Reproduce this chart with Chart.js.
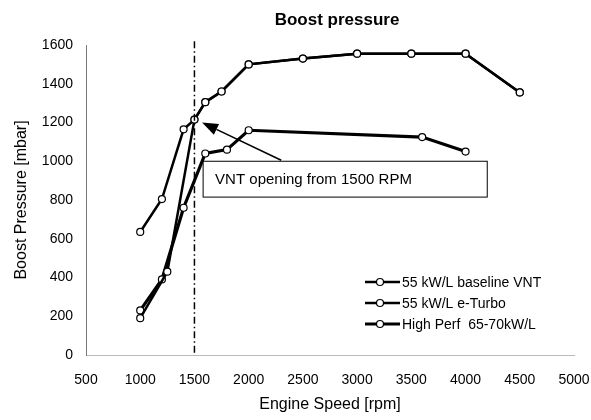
<!DOCTYPE html>
<html>
<head>
<meta charset="utf-8">
<script src="https://cdn.jsdelivr.net/npm/chart.js@4.4.0/dist/chart.umd.min.js"></script>
<style>
  html, body { margin: 0; padding: 0; background: #fff; }
  #wrap { width: 591px; height: 420px; }
</style>
</head>
<body>
<div id="wrap"><canvas id="grafico"></canvas></div>
<script>
// datos (rpm / mbar)
const rpmBaseline = [1000, 1250, 1500, 1600, 1750, 2000, 2500, 3000, 3500, 4000, 4500];
const boostBaseline = [190, 430, 1215, 1305, 1360, 1500, 1530, 1555, 1555, 1555, 1355];
const rpmETurbo = [1000, 1200, 1400, 1500, 1600, 1750, 2000, 2500, 3000, 3500, 4000, 4500];
const boostETurbo = [635, 805, 1165, 1215, 1305, 1360, 1500, 1530, 1555, 1555, 1555, 1355];
const rpmHighPerf = [1000, 1200, 1400, 1600, 1800, 2000, 3600, 4000];
const boostHighPerf = [230, 390, 760, 1040, 1060, 1160, 1125, 1050];
const xTicks = [500, 1000, 1500, 2000, 2500, 3000, 3500, 4000, 4500, 5000];
const yTicks = [0, 200, 400, 600, 800, 1000, 1200, 1400, 1600];

const FONT = '"Liberation Sans", Arial, sans-serif';

function puntos(xs, ys) {
  return xs.map((x, i) => ({ x: x, y: ys[i] }));
}

function serie(label, xs, ys, ancho) {
  return {
    label: label,
    data: puntos(xs, ys),
    borderColor: '#000',
    borderWidth: ancho,
    pointRadius: 3.5,
    pointBackgroundColor: '#fff',
    pointBorderColor: '#000',
    pointBorderWidth: 1.2,
    showLine: true,
    tension: 0
  };
}

// anotaciones: linea vertical, caja de texto y flecha (coordenadas de datos)
const extras = {
  id: 'extras',
  afterDatasetsDraw(chart) {
    const ctx = chart.ctx;
    const xs = chart.scales.x, ys = chart.scales.y;
    const area = chart.chartArea;
    ctx.save();

    // linea 1500 rpm
    ctx.strokeStyle = '#000';
    ctx.lineWidth = 1.5;
    ctx.setLineDash([7, 3, 1.5, 3]);
    ctx.beginPath();
    ctx.moveTo(xs.getPixelForValue(1500), ys.getPixelForValue(1620));
    ctx.lineTo(xs.getPixelForValue(1500), area.bottom);
    ctx.stroke();
    ctx.setLineDash([]);

    // caja
    const bx1 = xs.getPixelForValue(1580), bx2 = xs.getPixelForValue(4200);
    const by1 = ys.getPixelForValue(1000), by2 = ys.getPixelForValue(815);
    ctx.fillStyle = '#fff';
    ctx.fillRect(bx1, by1, bx2 - bx1, by2 - by1);
    ctx.lineWidth = 1;
    ctx.strokeRect(bx1, by1, bx2 - bx1, by2 - by1);
    ctx.fillStyle = '#000';
    ctx.font = '15px ' + FONT;
    ctx.textBaseline = 'middle';
    ctx.textAlign = 'left';
    ctx.fillText('VNT opening from 1500 RPM', bx1 + 12, (by1 + by2) / 2 + 1);

    // flecha
    const ax1 = xs.getPixelForValue(2300), ay1 = ys.getPixelForValue(1005);
    const ax2 = xs.getPixelForValue(1570), ay2 = ys.getPixelForValue(1200);
    const ang = Math.atan2(ay2 - ay1, ax2 - ax1);
    const L = 16, W = 6;
    ctx.lineWidth = 1.6;
    ctx.beginPath();
    ctx.moveTo(ax1, ay1);
    ctx.lineTo(ax2 - L * Math.cos(ang), ay2 - L * Math.sin(ang));
    ctx.stroke();
    ctx.beginPath();
    ctx.moveTo(ax2, ay2);
    ctx.lineTo(ax2 - L * Math.cos(ang) + W * Math.sin(ang), ay2 - L * Math.sin(ang) - W * Math.cos(ang));
    ctx.lineTo(ax2 - L * Math.cos(ang) - W * Math.sin(ang), ay2 - L * Math.sin(ang) + W * Math.cos(ang));
    ctx.closePath();
    ctx.fill();

    // leyenda
    ctx.font = '14px ' + FONT;
    chart.data.datasets.forEach((ds, i) => {
      const y = 282 + i * 21;
      ctx.lineWidth = ds.borderWidth;
      ctx.beginPath();
      ctx.moveTo(365, y);
      ctx.lineTo(400, y);
      ctx.stroke();
      ctx.beginPath();
      ctx.arc(380, y, 3.5, 0, Math.PI * 2);
      ctx.fillStyle = '#fff';
      ctx.fill();
      ctx.lineWidth = 1.2;
      ctx.stroke();
      ctx.fillStyle = '#000';
      ctx.fillText(ds.label, 402, y + 1);
    });

    // titulo
    ctx.font = 'bold 17px ' + FONT;
    ctx.textAlign = 'center';
    ctx.fillText('Boost pressure', 337, 20);
    ctx.restore();
  }
};

new Chart(document.getElementById('grafico').getContext('2d'), {
  type: 'scatter',
  data: {
    datasets: [
      serie('55 kW/L baseline VNT', rpmBaseline, boostBaseline, 2.5),
      serie('55 kW/L e-Turbo', rpmETurbo, boostETurbo, 2.5),
      serie('High Perf  65-70kW/L', rpmHighPerf, boostHighPerf, 3.2)
    ]
  },
  options: {
    responsive: true,
    maintainAspectRatio: false,
    animation: false,
    layout: { padding: { left: 0, right: 17, top: 45, bottom: 0 } },
    plugins: {
      legend: { display: false },
      tooltip: { enabled: false },
      title: { display: false }
    },
    scales: {
      x: {
        type: 'linear',
        min: 500,
        max: 5000,
        afterFit: s => { s.height = 65; s.paddingLeft = 0; s.paddingRight = 0; },
        afterBuildTicks: s => { s.ticks = xTicks.map(v => ({ value: v })); },
        grid: { display: false, drawTicks: false },
        border: { display: true, color: '#bbb', width: 1, dash: [1, 3] },
        ticks: {
          color: '#000',
          font: { size: 14, family: FONT },
          padding: 17,
          maxRotation: 0,
          callback: v => String(v)
        },
        title: {
          display: true,
          text: 'Engine Speed [rpm]',
          color: '#000',
          font: { size: 16, family: FONT },
          padding: { top: 0, bottom: 6 }
        }
      },
      y: {
        min: 0,
        max: 1600,
        afterFit: s => { s.width = 86; s.paddingTop = 0; s.paddingBottom = 0; },
        afterBuildTicks: s => { s.ticks = yTicks.map(v => ({ value: v })); },
        grid: { display: false, drawTicks: false },
        border: { display: true, color: '#777', width: 1 },
        ticks: {
          color: '#000',
          font: { size: 14, family: FONT },
          padding: 13,
          callback: v => String(v)
        },
        title: {
          display: true,
          text: 'Boost Pressure [mbar]',
          color: '#000',
          font: { size: 16, family: FONT },
          padding: { top: 12, bottom: 0 }
        }
      }
    }
  },
  plugins: [extras]
});
</script>
</body>
</html>
